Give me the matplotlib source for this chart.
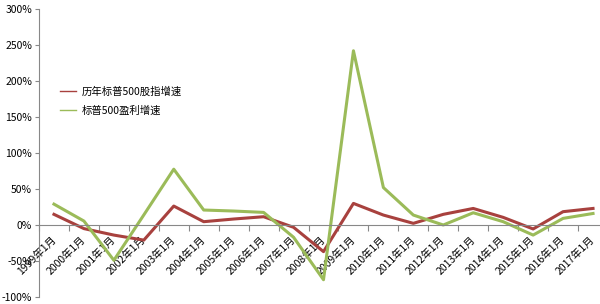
import numpy as np
import matplotlib.pyplot as plt
from matplotlib.ticker import FuncFormatter, FixedLocator

plt.rcParams['font.family'] = ['Noto Sans CJK SC', 'DejaVu Sans']

years = [str(y) + '年1月' for y in range(1999, 2018)]
index_growth = [14.8, -5, -14, -21, 26.3, 4.6, 8.3, 11.5, -3.2, -37,
                30, 13.8, 2.3, 14.8, 23, 10.6, -5.5, 18.5, 23]
earnings_growth = [29, 5.5, -49, 14, 77.5, 20.8, 19.4, 17.5, -17, -76,
                   242, 52, 13.8, 0, 17, 4.6, -14, 9.2, 16]

fig = plt.figure(figsize=(6, 3.04), dpi=100)
ax = fig.add_axes([39 / 600, 1 - 297 / 304, 569 / 600, 288 / 304])

x = np.arange(len(years))
ax.plot(x, index_growth, color='#A8413E', linewidth=2.2, label='历年标普500股指增速')
ax.plot(x, earnings_growth, color='#9BBB59', linewidth=2.2, label='标普500盈利增速')

ax.set_xlim(-0.5, len(years) - 0.5)
ax.set_ylim(-100, 300)
ax.set_yticks(np.arange(-100, 301, 50))
ax.yaxis.set_major_formatter(FuncFormatter(lambda v, p: f'{v:.0f}%'))
ax.tick_params(axis='y', length=3, width=0.8, color='#888888', labelsize=7.5, pad=2)

ax.spines['top'].set_visible(False)
ax.spines['right'].set_visible(False)
ax.spines['left'].set_color('#888888')
ax.spines['bottom'].set_position(('data', 0))
ax.spines['bottom'].set_color('#888888')

ax.set_xticks(x)
ax.set_xticklabels(years, rotation=45, ha='right', va='center',
                   rotation_mode='anchor', fontsize=7.5)
ax.tick_params(axis='x', which='major', length=0, pad=9)
ax.xaxis.set_minor_locator(FixedLocator(np.arange(-0.5, len(years), 1)))
ax.tick_params(axis='x', which='minor', length=4, width=0.8, color='#888888')

leg = ax.legend(loc='upper left', bbox_to_anchor=(0.02, 0.765), frameon=False,
                fontsize=7.5, handlelength=1.6, handletextpad=0.55, labelspacing=0.9)
for line in leg.get_lines():
    line.set_linewidth(1.0)

fig.savefig('out.png', dpi=100)
